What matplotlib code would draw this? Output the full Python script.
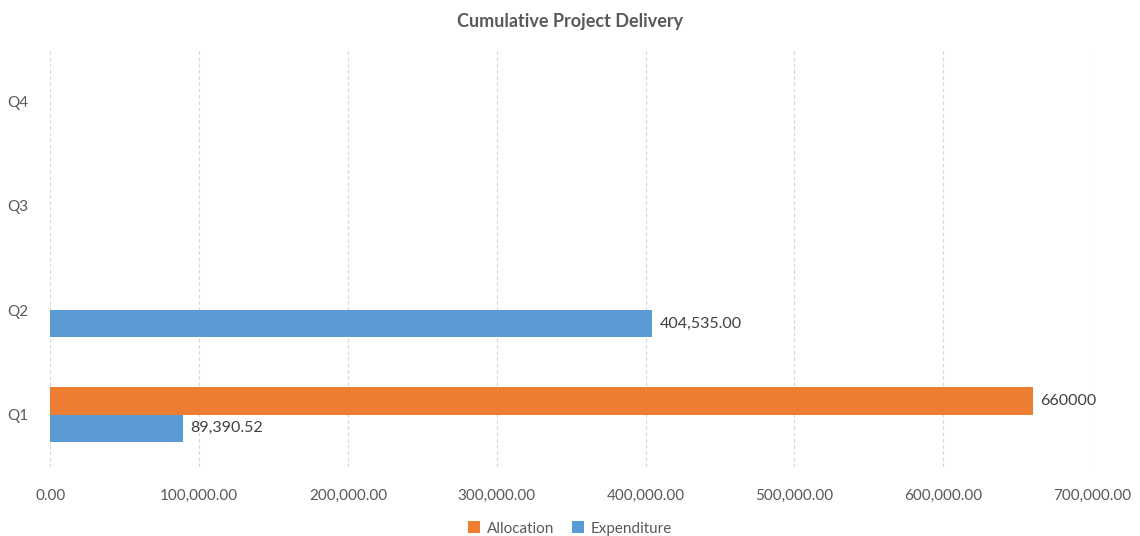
import numpy as np
import matplotlib
matplotlib.use("Agg")
import matplotlib.pyplot as plt
from matplotlib.ticker import FuncFormatter

quarters = ["Q1", "Q2", "Q3", "Q4"]
allocation = [660000, np.nan, np.nan, np.nan]
expenditure = [89390.52, 404535.00, np.nan, np.nan]

plt.rcParams['font.family'] = ['Lato', 'DejaVu Sans']
text_color = "#595959"
orange = "#ED7D31"
blue = "#5B9BD5"

fig = plt.figure(figsize=(11.4, 5.36), dpi=100)
ax = fig.add_axes([0.044, 0.129, 0.914, 0.78])

y = np.arange(len(quarters))
h = 0.26
bars_a = ax.barh(y + h / 2, allocation, height=h, color=orange, label="Allocation")
bars_e = ax.barh(y - h / 2, expenditure, height=h, color=blue, label="Expenditure")

for bar, v in zip(bars_a, allocation):
    if not np.isnan(v):
        ax.text(v + 5000, bar.get_y() + bar.get_height() / 2, f"{v:.0f}",
                va="center", ha="left", fontsize=11.5, color="#404040")
for bar, v in zip(bars_e, expenditure):
    if not np.isnan(v):
        ax.text(v + 5000, bar.get_y() + bar.get_height() / 2, f"{v:,.2f}",
                va="center", ha="left", fontsize=11.5, color="#404040")

ax.set_xlim(0, 700000)
ax.set_ylim(-0.5, 3.5)
ax.set_xticks(np.arange(0, 700001, 100000))
ax.xaxis.set_major_formatter(FuncFormatter(lambda v, p: f"{v:,.2f}"))
ax.set_yticks(y)
ax.set_yticklabels(quarters)
ax.tick_params(length=0, labelsize=11, colors=text_color)
ax.tick_params(axis="x", pad=16)
ax.tick_params(axis="y", pad=16)
ax.grid(axis="x", color="#D9D9D9", linestyle=(0, (3, 2)), linewidth=0.9)
ax.set_axisbelow(True)
for s in ax.spines.values():
    s.set_visible(False)

fig.suptitle("Cumulative Project Delivery", y=0.975, fontsize=13,
             fontweight="bold", color=text_color)
fig.legend(loc="lower center", bbox_to_anchor=(0.5, -0.025), ncol=2, frameon=False,
           fontsize=11, labelcolor=text_color, handlelength=0.8, handleheight=0.8,
           handletextpad=0.4, columnspacing=1.2)

fig.savefig("out.png", dpi=100, facecolor="white")
